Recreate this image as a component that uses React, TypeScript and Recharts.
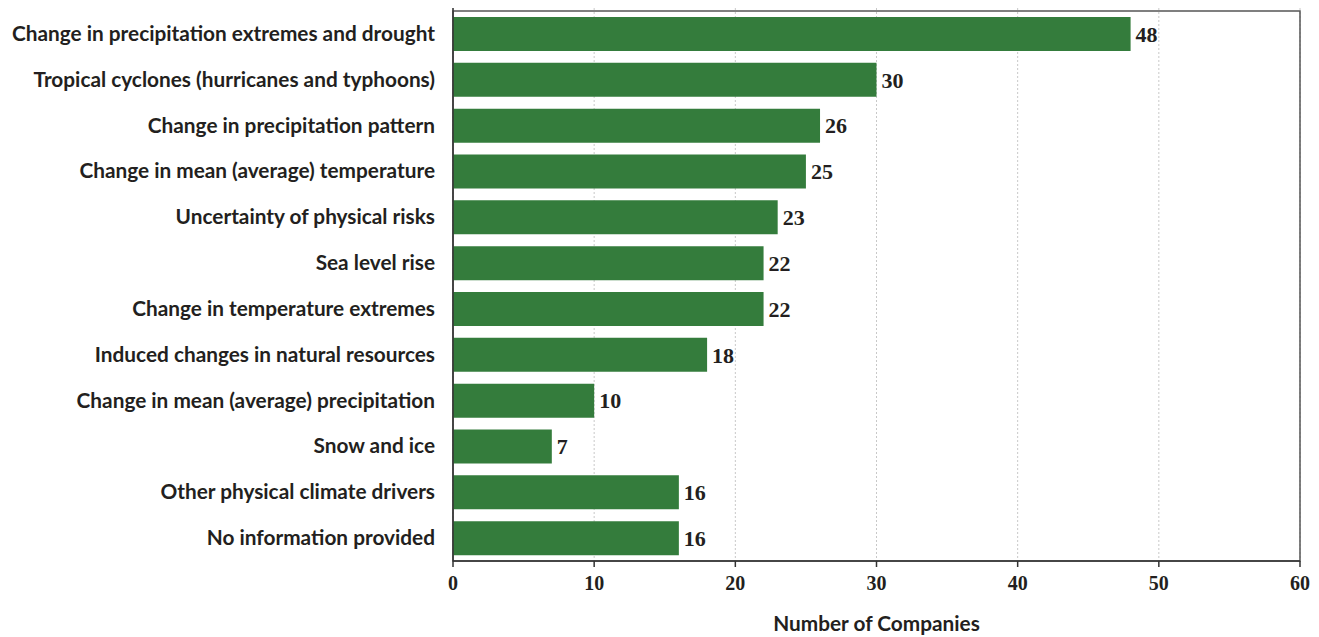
import { BarChart, Bar, XAxis, YAxis, CartesianGrid, LabelList, ReferenceArea } from 'recharts';

const categories = [
  'Change in precipitation extremes and drought',
  'Tropical cyclones (hurricanes and typhoons)',
  'Change in precipitation pattern',
  'Change in mean (average) temperature',
  'Uncertainty of physical risks',
  'Sea level rise',
  'Change in temperature extremes',
  'Induced changes in natural resources',
  'Change in mean (average) precipitation',
  'Snow and ice',
  'Other physical climate drivers',
  'No information provided',
];

const companyCounts = [48, 30, 26, 25, 23, 22, 22, 18, 10, 7, 16, 16];

const xTicks = [0, 10, 20, 30, 40, 50, 60];

const data = categories.map((name, i) => ({ name, count: companyCounts[i] }));

const BAR_GREEN = '#347c3c';
const TEXT = '#231f20';
const LABEL_FONT = 'Lato, "Open Sans", sans-serif';
const NUM_FONT = '"Liberation Serif", "DejaVu Serif", serif';

function CategoryTick({ x, y, payload }: any) {
  return (
    <text
      x={x - 10}
      y={y}
      dy={7}
      textAnchor="end"
      fill={TEXT}
      fontFamily={LABEL_FONT}
      fontWeight={700}
      fontSize={20.8}
    >
      {payload.value}
    </text>
  );
}

export default function App() {
  return (
    <div style={{ position: 'absolute', left: 0, top: 0, background: '#fff' }}>
      <BarChart
        width={1319}
        height={637}
        data={data}
        layout="vertical"
        margin={{ top: 8, right: 19, bottom: 0, left: 0 }}
        barSize={34}
      >
        <CartesianGrid horizontal={false} vertical stroke="#c8c8c8" strokeDasharray="2 2" />
        <ReferenceArea x1={0} x2={60} fill="none" stroke="#555" strokeWidth={1.5} ifOverflow="visible" />
        <XAxis
          type="number"
          domain={[0, 60]}
          ticks={xTicks}
          height={76}
          axisLine={{ stroke: '#333', strokeWidth: 1.5 }}
          tickLine={{ stroke: '#333', strokeWidth: 1.5 }}
          tickSize={6}
          tick={{ fill: TEXT, fontFamily: NUM_FONT, fontWeight: 700, fontSize: 20 }}
          tickMargin={9}
          label={{
            value: 'Number of Companies',
            position: 'insideBottom',
            offset: 6,
            fill: TEXT,
            fontFamily: LABEL_FONT,
            fontWeight: 700,
            fontSize: 20.8,
          }}
        />
        <YAxis
          type="category"
          dataKey="name"
          width={453}
          padding={{ top: 3, bottom: 0 }}
          axisLine={{ stroke: '#333', strokeWidth: 1.5 }}
          tickLine={false}
          tick={<CategoryTick />}
          interval={0}
        />
        <Bar dataKey="count" fill={BAR_GREEN} isAnimationActive={false}>
          <LabelList
            dataKey="count"
            position="right"
            offset={5}
            fill={TEXT}
            fontFamily={NUM_FONT}
            fontWeight={700}
            fontSize={22}
          />
        </Bar>
      </BarChart>
    </div>
  );
}
